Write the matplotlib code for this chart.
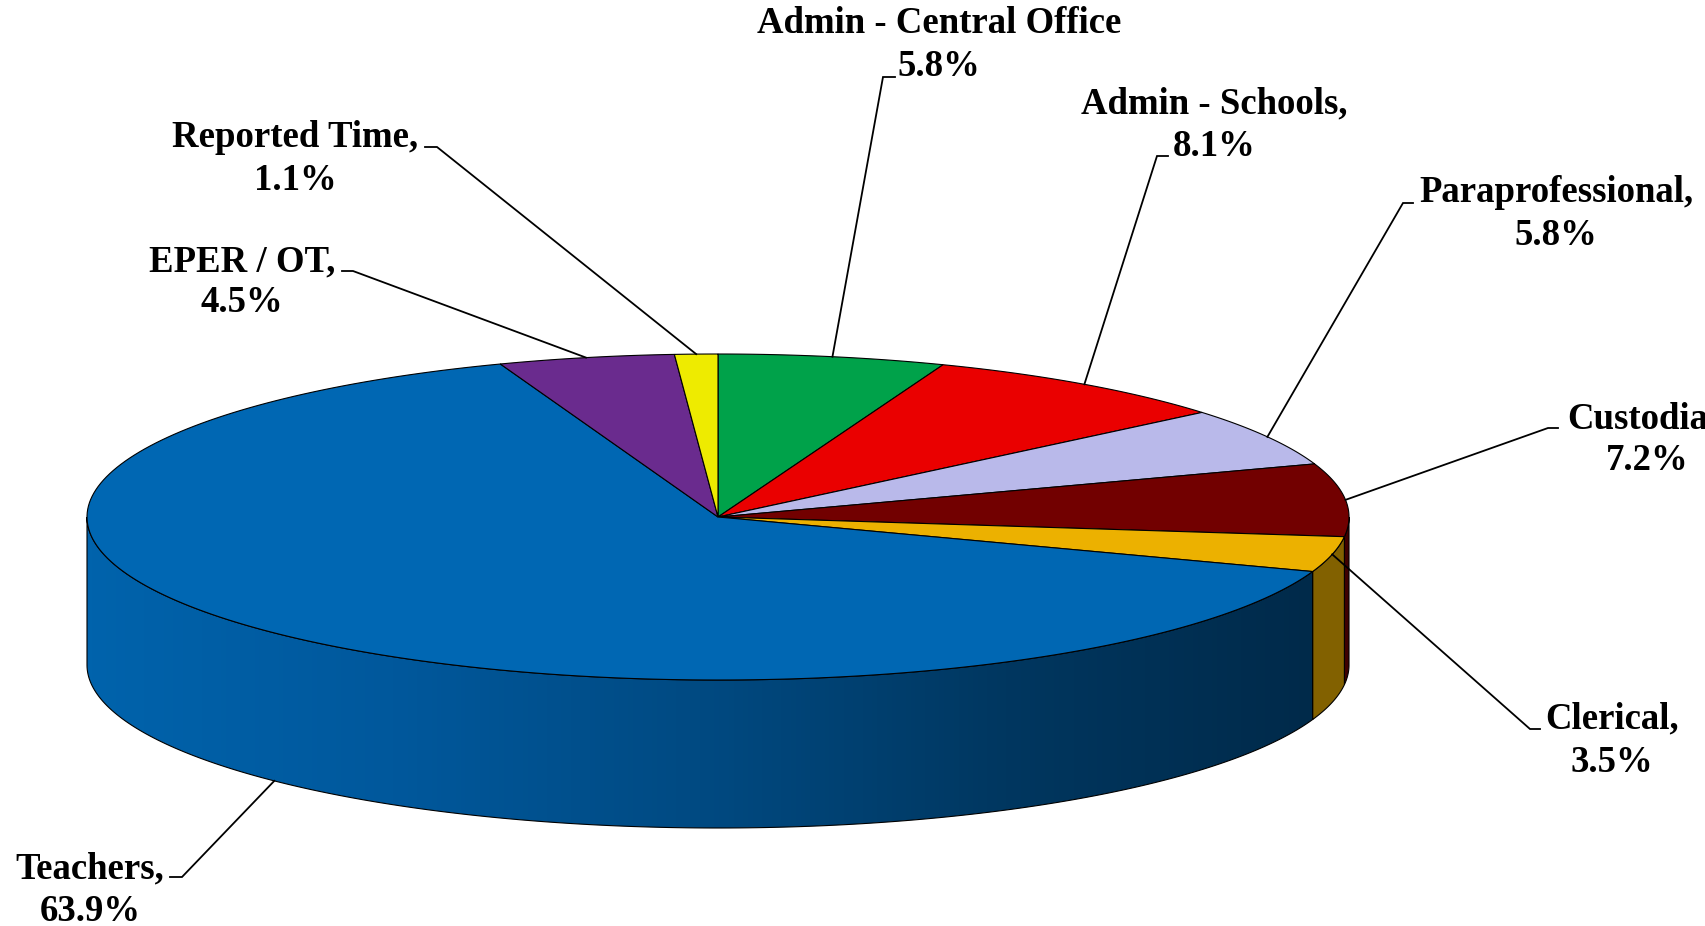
import numpy as np
import matplotlib
matplotlib.use("Agg")
import matplotlib.pyplot as plt
from matplotlib.colors import LinearSegmentedColormap, to_rgb
from matplotlib.patches import Polygon

# ---- data (clockwise from 12 o'clock) ----
CATEGORIES = [
    "Admin - Central Office",
    "Admin - Schools,",
    "Paraprofessional,",
    "Custodial,",
    "Clerical,",
    "Teachers,",
    "EPER / OT,",
    "Reported Time,",
]
SHARES = [5.8, 8.1, 5.8, 7.2, 3.5, 63.9, 4.5, 1.1]

COLORS = ["#00A24A", "#EA0000", "#B9B9EA", "#720000",
          "#ECB100", "#0067B3", "#6A2B8E", "#EEEB00"]

# ---- layout (pixel space of a 1706x926 canvas) ----
W, H = 1706, 926
CX, CY = 718, 517
RX, RY = 631, 163
DEPTH = 148

# label centre x, baseline of the name line, baseline of the percent line
LABEL_X = [939, 1214, 1556, 1647, 1612, 90, 242, 295]
NAME_Y = [33, 113, 202, 428, 728, 878, 271, 147]
PCT_Y = [76, 156, 245, 470, 772, 921, 312, 190]
# leader: elbow point and end of the short horizontal tick
ELBOW = [(883, 77), (1157, 156), (1403, 203), (1548, 428),
         (1530, 729), (182, 877), (353, 271), (437, 147)]
TICK_END = [(895, 77), (1168, 156), (1413, 203), (1558, 428),
            (1540, 729), (170, 877), (342, 271), (425, 147)]

FONT = dict(family=["Liberation Serif", "DejaVu Serif"], weight="bold", size=26.5)


def top_pt(t_deg, dz=0.0):
    t = np.radians(t_deg)
    return CX + RX * np.cos(t), CY - RY * np.sin(t) + dz


def arc(t0, t1, dz=0.0, n=200):
    ts = np.linspace(t0, t1, n)
    return np.column_stack(top_pt(ts, dz))


def shade(color, f):
    r, g, b = to_rgb(color)
    return (r * f, g * f, b * f)


fig = plt.figure(figsize=(W / 100, H / 100), dpi=100)
ax = fig.add_axes([0, 0, 1, 1])
ax.set_xlim(0, W)
ax.set_ylim(H, 0)
ax.axis("off")

shares = np.asarray(SHARES, dtype=float)
spans = shares / shares.sum() * 360.0
starts = 90.0 - np.concatenate([[0.0], np.cumsum(spans)[:-1]])
ends = starts - spans

side_cmap = LinearSegmentedColormap.from_list(
    "side", ["#0063AC", "#00589C", "#004A82", "#003760", "#002A4A"])

# side walls (front half only: angles between -180 and 0)
for i, (s, e) in enumerate(zip(starts, ends)):
    hi, lo = min(s, 0.0), max(e, -180.0)
    if lo >= hi:
        continue
    pts = np.vstack([arc(hi, lo), arc(lo, hi, DEPTH)])
    if CATEGORIES[i].startswith("Teachers"):
        poly = Polygon(pts, closed=True, facecolor="none", edgecolor="black", lw=0.8, zorder=2)
        ax.add_patch(poly)
        grad = np.linspace(0, 1, 256).reshape(1, -1)
        x0, x1 = pts[:, 0].min(), pts[:, 0].max()
        im = ax.imshow(grad, cmap=side_cmap, aspect="auto",
                       extent=(x0, x1, pts[:, 1].max(), pts[:, 1].min()), zorder=1)
        im.set_clip_path(poly)
    else:
        ax.add_patch(Polygon(pts, closed=True, facecolor=shade(COLORS[i], 0.55),
                             edgecolor="black", lw=0.8, zorder=2))

# top faces
for i, (s, e) in enumerate(zip(starts, ends)):
    pts = np.vstack([[CX, CY], arc(s, e)])
    ax.add_patch(Polygon(pts, closed=True, facecolor=COLORS[i],
                         edgecolor="black", lw=0.8, zorder=3))

# labels and leader lines
for i, (s, e) in enumerate(zip(starts, ends)):
    mid = (s + e) / 2.0
    dz = DEPTH if np.sin(np.radians(mid)) < -0.5 else 0.0
    px, py = top_pt(mid, dz)
    ex, ey = ELBOW[i]
    tx, ty = TICK_END[i]
    ax.plot([px, ex, tx], [py, ey, ty], color="black", lw=1.3, zorder=4,
            solid_joinstyle="miter")
    ax.text(LABEL_X[i], NAME_Y[i], CATEGORIES[i], ha="center", va="baseline", **FONT)
    ax.text(LABEL_X[i], PCT_Y[i], f"{SHARES[i]:.1f}%", ha="center", va="baseline", **FONT)

fig.savefig("out.png", dpi=100)
